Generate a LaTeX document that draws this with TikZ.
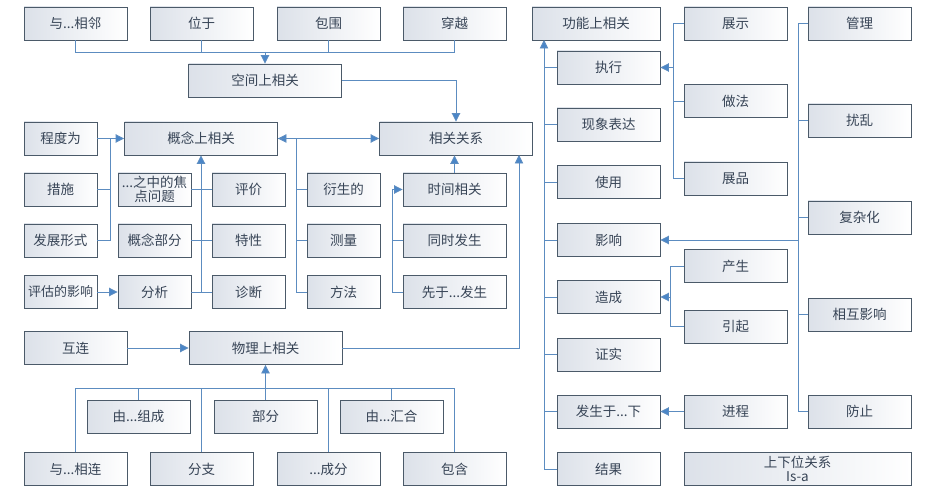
\documentclass[tikz,border=0pt]{standalone}
\usepackage{fontspec}
\setmainfont{Noto Sans CJK SC}
\usetikzlibrary{arrows.meta}
\definecolor{bord}{RGB}{75,90,105}
\definecolor{lnc}{RGB}{92,140,192}
\definecolor{arc}{RGB}{74,134,200}
\definecolor{txc}{RGB}{55,68,86}
\definecolor{shd}{RGB}{220,225,233}
\tikzset{
  box/.style={draw=bord, line width=0.9pt, left color=shd, right color=white, text=txc,
    minimum height=33pt, inner sep=1pt, align=center,
    font=\fontsize{13.5}{15}\selectfont},
  nw/.style={box, minimum width=73pt},
  ww/.style={box, minimum width=103pt},
  lw/.style={box, minimum width=153pt},
  ln/.style={draw=lnc, line width=0.9pt},
  arr/.style={ln, -{Triangle[length=8.5pt,width=8.5pt,fill=arc]}}
}
\begin{document}
\begin{tikzpicture}[x=1pt,y=-1pt]
\useasboundingbox (0,0) rectangle (930,492);
% left top row
\node[ww] (adj) at (75.5,23.5) {与...相邻};
\node[ww] (loc) at (201.5,23.5) {位于};
\node[ww] (sur) at (328.5,23.5) {包围};
\node[ww] (cro) at (454.5,23.5) {穿越};
\node[lw] (spa) at (265,80.5) {空间上相关};
\node[lw] (con) at (201,138.5) {概念上相关};
\node[lw] (rel) at (456,138.5) {相关关系};
\node[nw] (deg) at (60.5,138.5) {程度为};
\node[nw] (mea) at (60.5,189.5) {措施};
\node[nw] (dev) at (60.5,240.5) {发展形式};
\node[nw, font=\fontsize{13}{15}\selectfont] (eva) at (60.5,292) {评估的影响};
\node[nw, font=\fontsize{13.5}{14}\selectfont] (foc) at (154.5,189.5) {...之中的焦\\点问题};
\node[nw] (cpt) at (154.5,240.5) {概念部分};
\node[nw] (ana) at (154.5,292) {分析};
\node[nw] (jud) at (248.5,189.5) {评价};
\node[nw] (prp) at (248.5,240.5) {特性};
\node[nw] (dia) at (248.5,292) {诊断};
\node[nw] (der) at (343.5,189.5) {衍生的};
\node[nw] (msr) at (343.5,240.5) {测量};
\node[nw] (met) at (343.5,292) {方法};
\node[ww] (tim) at (454.5,189.5) {时间相关};
\node[ww] (sim) at (454.5,240.5) {同时发生};
\node[ww] (pre) at (454.5,292) {先于...发生};
\node[ww] (int) at (75.5,348) {互连};
\node[lw] (phy) at (265.5,348) {物理上相关};
\node[ww] (com) at (138.5,416.5) {由...组成};
\node[ww] (prt) at (265.5,416.5) {部分};
\node[ww] (agg) at (391.5,416.5) {由...汇合};
\node[ww] (cnn) at (75.5,469) {与...相连};
\node[ww] (bra) at (201.5,469) {分支};
\node[ww] (ing) at (328.5,469) {...成分};
\node[ww] (inc) at (454.5,469) {包含};
% right part
\node[box, minimum width=128pt] (fun) at (596,23.5) {功能上相关};
\node[ww] (exe) at (608.5,67.5) {执行};
\node[ww] (phe) at (608.5,124.5) {现象表达};
\node[ww] (use) at (608.5,182) {使用};
\node[ww] (inf) at (608.5,240) {影响};
\node[ww] (cau) at (608.5,297) {造成};
\node[ww] (ver) at (608.5,354.5) {证实};
\node[ww] (occ) at (608.5,411.5) {发生于...下};
\node[ww] (res) at (608.5,469) {结果};
\node[ww] (sho) at (735.5,23.5) {展示};
\node[ww] (pra) at (735.5,101) {做法};
\node[ww] (exh) at (735.5,178.5) {展品};
\node[ww] (pro) at (735.5,266) {产生};
\node[ww] (ind) at (735.5,326.5) {引起};
\node[ww] (prc) at (735.5,411.5) {进程};
\node[box, minimum width=227pt, font=\fontsize{13.5}{14}\selectfont] (isa) at (797.5,469) {上下位关系\\Is-a};
\node[ww] (man) at (859.5,23.5) {管理};
\node[ww] (dis) at (859.5,120.5) {扰乱};
\node[ww] (cpl) at (859.5,217.5) {复杂化};
\node[ww] (mut) at (859.5,314.5) {相互影响};
\node[ww] (prv) at (859.5,411.5) {防止};
% coordinates
\coordinate (j1) at (265,52);
\coordinate (b1) at (110,138.5);
\coordinate (b2) at (296,138.5);
\coordinate (b3) at (392,189.5);
\coordinate (relin) at (519,155);
\coordinate (j2) at (265.5,388);
\coordinate (ft) at (544,40);
\coordinate (b4) at (673,67.5);
\coordinate (b5) at (670,297);
\coordinate (b6) at (798,240);
% connectors: spatial
\draw[ln] (adj.south) |- (j1);
\draw[ln] (loc.south) |- (j1);
\draw[ln] (sur.south) |- (j1);
\draw[ln] (cro.south) |- (j1);
\draw[arr] (j1) -- (spa.north);
\draw[arr] (spa.east) -| (rel.north);
% conceptual
\draw[arr] (deg.east) -- (con.west);
\draw[ln] (mea.east) -| (b1);
\draw[ln] (dev.east) -| (b1);
\draw[arr] (eva.east) -- (ana.west);
\draw[ln] (foc.east) -- (jud.west);
\draw[ln] (cpt.east) -- (prp.west);
\draw[ln] (ana.east) -- (dia.west);
\draw[arr] (con.south |- ana.east) -- (con.south);
\draw[ln] (der.west) -| (b2);
\draw[ln] (msr.west) -| (b2);
\draw[ln] (met.west) -| (b2);
\draw[arr] (b2) -- (con.east);
\draw[arr] (con.east) -- (rel.west);
% temporal
\draw[ln] (sim.west) -| (b3);
\draw[ln] (pre.west) -| (b3);
\draw[arr] (b3) -- (tim.west);
\draw[arr] (tim.north) -- (tim.north |- rel.south);
% physical
\draw[arr] (int.east) -- (phy.west);
\draw[arr] (phy.east) -| (relin);
\draw[ln] (cnn.north) |- (j2);
\draw[ln] (bra.north) |- (j2);
\draw[ln] (ing.north) |- (j2);
\draw[ln] (inc.north) |- (j2);
\draw[ln] (com.north) |- (j2);
\draw[ln] (agg.north) |- (j2);
\draw[arr] (prt.north) -- (phy.south);
% functional
\draw[arr] (res.west) -| (ft);
\foreach \n in {exe,phe,use,inf,cau,ver,occ}{
  \draw[ln] (\n.west) -- (\n.west -| ft);
}
\draw[ln] (sho.west) -| (b4);
\draw[ln] (pra.west) -| (b4);
\draw[ln] (exh.west) -| (b4);
\draw[arr] (b4) -- (exe.east);
\draw[ln] (pro.west) -| (b5);
\draw[ln] (ind.west) -| (b5);
\draw[arr] (b5) -- (cau.east);
\draw[arr] (prc.west) -- (occ.east);
\draw[ln] (man.west) -| (b6);
\draw[ln] (dis.west) -| (b6);
\draw[ln] (cpl.west) -| (b6);
\draw[ln] (mut.west) -| (b6);
\draw[ln] (prv.west) -| (b6);
\draw[arr] (b6) -- (inf.east);
\end{tikzpicture}
\end{document}
